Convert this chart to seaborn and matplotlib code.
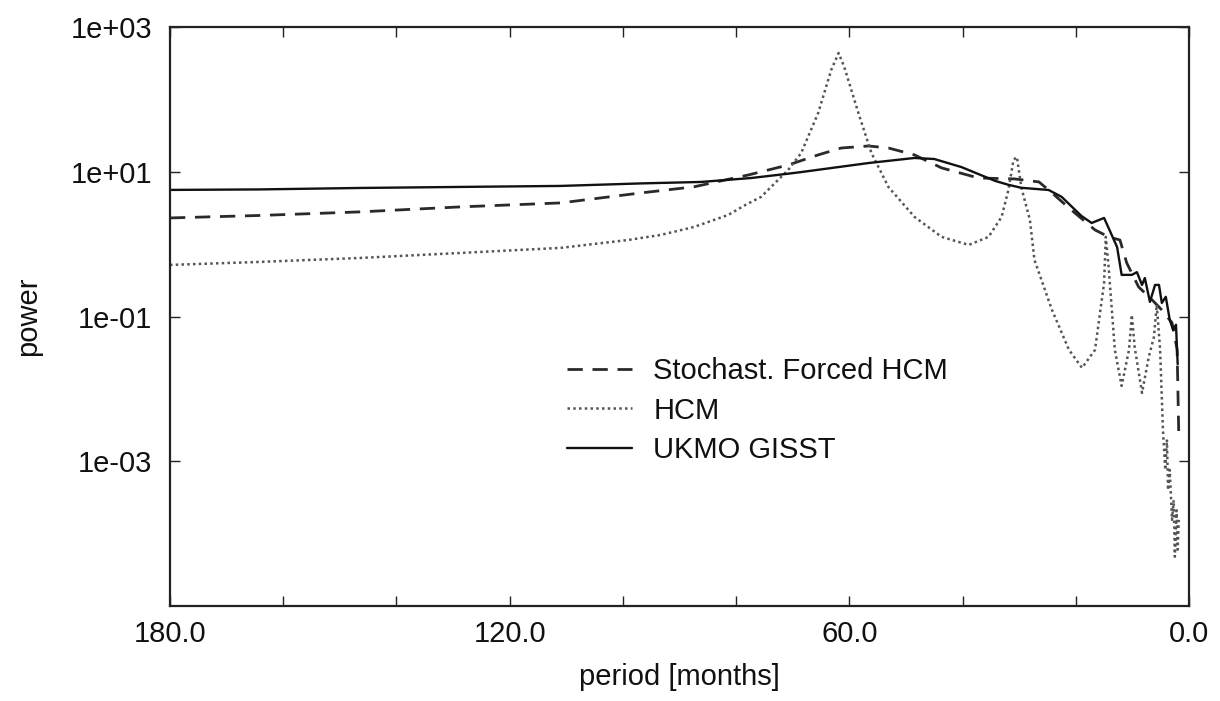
import numpy as np
import pandas as pd
import matplotlib
matplotlib.use("Agg")
import matplotlib.pyplot as plt
import seaborn as sns

# ---- data (period in months, power) ----
gisst_period = [180.0, 164.1, 146.4, 128.7, 111.0, 96.8, 86.2, 77.3, 70.8, 68.5, 56.6, 48.5,
                45.0, 40.2, 34.3, 31.9, 29.6, 24.8, 22.5, 19.0, 17.2, 15.0, 14.2, 12.7, 11.9,
                10.1, 9.2, 8.3, 7.8, 6.9, 6.0, 5.3, 4.8, 4.1, 3.4, 2.8, 2.3, 2.0]
gisst_power = [5.61, 5.7, 5.97, 6.17, 6.37, 6.9, 7.23, 8.2, 9.4, 9.9, 13.2, 15.5,
               15.0, 11.6, 7.5, 6.6, 6.0, 5.6, 4.5, 2.45, 1.96, 2.3, 1.67, 0.91, 0.376,
               0.376, 0.41, 0.273, 0.34, 0.159, 0.273, 0.273, 0.154, 0.187, 0.090, 0.065,
               0.077, 0.022]

stoch_period = [180.0, 164.1, 146.4, 128.7, 111.0, 96.8, 87.4, 82.6, 77.9, 70.8, 65.5, 61.4,
                56.6, 53.1, 48.5, 43.7, 37.2, 30.8, 26.5, 24.2, 21.2, 16.6, 14.2, 12.2, 11.0,
                8.9, 6.5, 4.8, 3.0, 2.1, 1.8]
stoch_power = [2.30, 2.49, 2.79, 3.27, 3.71, 5.1, 6.2, 7.5, 9.0, 12.4, 17.1, 21.3,
               22.7, 21.3, 17.1, 11.3, 8.2, 7.96, 7.23, 5.1, 3.16, 1.57, 1.26, 1.14, 0.55,
               0.256, 0.169, 0.123, 0.082, 0.035, 0.0022]

hcm_period = [180.0, 164.1, 146.4, 128.7, 111.0, 99.1, 93.3, 87.4, 81.4, 78.3, 75.6, 70.8,
              68.5, 65.5, 63.2, 61.9, 60.9, 58.4, 56.1, 53.1, 48.5, 43.7, 38.9, 35.4, 33.1,
              31.9, 31.0, 30.4, 29.6, 28.1, 27.3, 24.2, 21.2, 18.9, 16.6, 15.0, 14.7, 14.2,
              13.1, 11.9, 10.6, 10.1, 9.6, 8.3, 7.1, 6.2, 5.7, 5.1, 4.6, 4.2, 3.9, 3.7, 3.4,
              3.0, 2.7, 2.5, 2.2, 2.0, 1.8]
hcm_power = [0.516, 0.568, 0.644, 0.755, 0.887, 1.14, 1.34, 1.73, 2.53, 3.5, 4.49, 10.6,
             18.2, 64.9, 255, 437, 281, 64.9, 18.2, 6.17, 2.38, 1.26, 0.975, 1.26, 2.38,
             5.6, 14.6, 16.0, 5.97, 2.16, 0.605, 0.123, 0.0346, 0.0195, 0.0346, 0.291, 1.26,
             0.484, 0.0346, 0.011, 0.0346, 0.105, 0.038, 0.0088, 0.0277, 0.052, 0.145,
             0.0346, 0.0027, 7.6e-4, 0.0020, 4.0e-4, 7.6e-4, 1.55e-4, 2.9e-4, 4.8e-5,
             2.1e-4, 6.0e-5, 1.55e-4]

series_labels = ["Stochast. Forced HCM", "HCM", "UKMO GISST"]
y_ticks = [1e3, 1e1, 1e-1, 1e-3]
y_tick_labels = ["1e+03", "1e+01", "1e-01", "1e-03"]
x_ticks = [180, 120, 60, 0]
x_tick_labels = ["180.0", "120.0", "60.0", "0.0"]
x_minor = [160, 140, 100, 80, 40, 20]

sns.set_theme(style="white")
plt.rcParams["font.family"] = ["Liberation Sans", "DejaVu Sans"]

FS = 21

fig = plt.figure(figsize=(12.2, 7.01), dpi=100)
ax = fig.add_axes([170 / 1220, 1 - 606 / 701, (1189 - 170) / 1220, (606 - 27) / 701])

df_s = pd.DataFrame({"period": stoch_period, "power": stoch_power})
df_h = pd.DataFrame({"period": hcm_period, "power": hcm_power})
df_g = pd.DataFrame({"period": gisst_period, "power": gisst_power})

sns.lineplot(data=df_s, x="period", y="power", ax=ax, color="#2a2a2a", lw=2.0,
             label=series_labels[0], linestyle=(0, (5.5, 3.5)), sort=False)
sns.lineplot(data=df_h, x="period", y="power", ax=ax, color="#555555", lw=1.8,
             label=series_labels[1], linestyle=(0, (1, 1.3)), sort=False)
sns.lineplot(data=df_g, x="period", y="power", ax=ax, color="#111111", lw=1.7,
             label=series_labels[2], linestyle="-", sort=False)

ax.set_yscale("log")
ax.set_xlim(180, 0)
ax.set_ylim(1e-5, 1e3)
ax.set_yticks(y_ticks)
ax.set_yticklabels(y_tick_labels)
ax.yaxis.set_minor_locator(matplotlib.ticker.NullLocator())
ax.set_xticks(x_ticks)
ax.set_xticklabels(x_tick_labels)
ax.set_xticks(x_minor, minor=True)

ax.tick_params(axis="both", which="both", direction="in", length=7, width=1,
               top=True, right=True, bottom=True, left=True, colors="#222222",
               labelcolor="#111111", labelsize=FS)
ax.tick_params(axis="y", pad=13)
ax.tick_params(axis="x", pad=10)

for sp in ax.spines.values():
    sp.set_color("#222222")
    sp.set_linewidth(1.6)

ax.set_xlabel("period [months]", fontsize=FS, color="#111111", labelpad=11)
ax.set_ylabel("power", fontsize=FS, color="#111111", labelpad=20)

leg = ax.legend(loc="upper left", bbox_to_anchor=(0.39, 0.43), frameon=False,
                fontsize=FS, handlelength=2.2, handletextpad=0.75,
                labelspacing=0.4, borderpad=0, borderaxespad=0)
for t in leg.get_texts():
    t.set_color("#111111")

fig.savefig("out.png", dpi=100)
